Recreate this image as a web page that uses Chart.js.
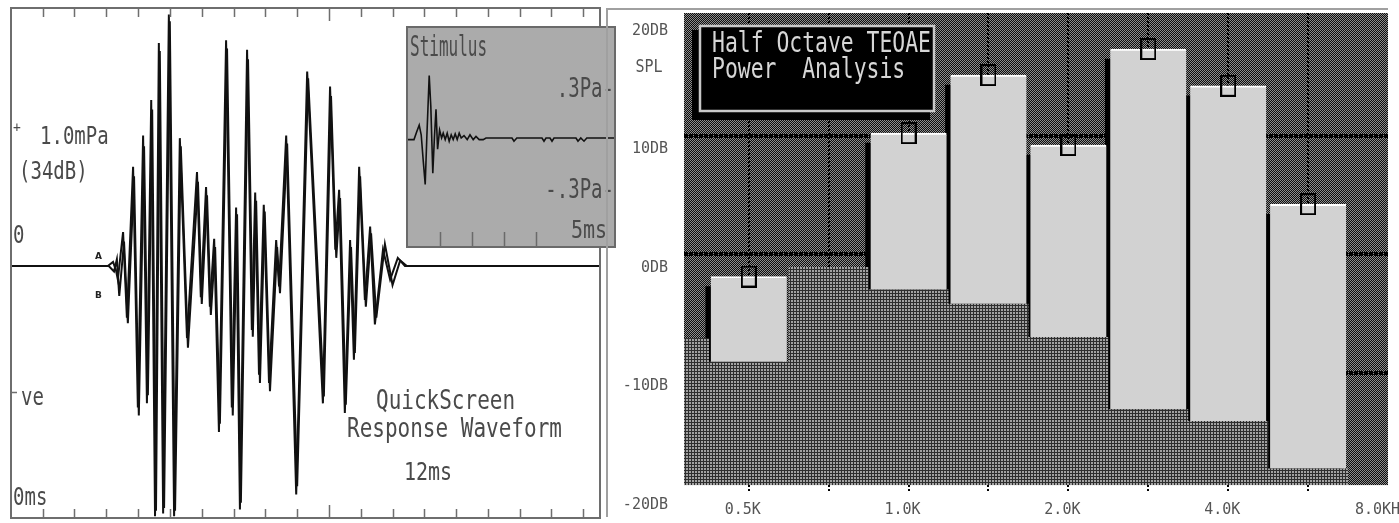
<!DOCTYPE html>
<html>
<head>
<meta charset="utf-8">
<script src="https://cdn.jsdelivr.net/npm/chart.js@4.4.1/dist/chart.umd.min.js"></script>
<style>
  html, body { margin: 0; padding: 0; background: #fff; }
  #wrap { position: relative; width: 1399px; height: 523px; overflow: hidden; }
  canvas { position: absolute; }
  #wave { left: 0; top: 0; }
  #stim { left: 406px; top: 26px; }
  #spec { left: 605px; top: 0; }
</style>
</head>
<body>
<div id="wrap">
  <canvas id="wave" width="605" height="523"></canvas>
  <canvas id="stim" width="210" height="222"></canvas>
  <canvas id="spec" width="794" height="523"></canvas>
</div>
<script>
// ---------- response waveform, two recordings A and B: [ms, mPa] ----------
const responseA = [
  [0, 0], [2.03, 0], [2.14, 0.03], [2.20, -0.03], [2.24, -0.10], [2.35, 0.25], [2.43, -0.38],
  [2.56, 0.73], [2.66, -1.04], [2.77, 0.96], [2.85, -1.01], [2.94, 1.22], [3.02, -1.84],
  [3.10, 1.64], [3.19, -1.82], [3.31, 1.85], [3.42, -1.84], [3.54, 0.94], [3.69, -0.53],
  [3.90, 0.69], [3.98, -0.23], [4.09, 0.58], [4.17, -0.30], [4.26, 0.20], [4.36, -1.22],
  [4.51, 1.66], [4.63, -1.04], [4.72, 0.43], [4.80, -1.79], [4.95, 1.59], [5.05, -0.47],
  [5.12, 0.54], [5.20, -0.80], [5.30, 0.45], [5.41, -0.86], [5.56, 0.19], [5.62, -0.15],
  [5.77, 0.96], [5.98, -1.68], [6.21, 1.43], [6.54, -1.01], [6.69, 1.32], [6.80, 0.12],
  [6.88, 0.56], [7.00, -1.08], [7.11, 0.19], [7.19, -0.69], [7.30, 0.73], [7.42, -0.25],
  [7.53, 0.29], [7.63, -0.43], [7.80, 0.12], [7.95, -0.10], [8.11, 0.06], [8.26, 0], [12.35, 0]
];
const responseB = [
  [0, 0], [2.05, 0], [2.16, -0.04], [2.22, 0.05], [2.27, -0.22], [2.37, 0.18], [2.45, -0.42],
  [2.58, 0.66], [2.68, -1.10], [2.79, 0.88], [2.87, -0.95], [2.96, 1.15], [3.04, -1.80],
  [3.12, 1.58], [3.21, -1.78], [3.33, 1.80], [3.44, -1.80], [3.56, 0.88], [3.71, -0.60],
  [3.92, 0.62], [4.00, -0.28], [4.11, 0.52], [4.19, -0.36], [4.28, 0.14], [4.38, -1.16],
  [4.53, 1.60], [4.65, -1.10], [4.74, 0.38], [4.82, -1.74], [4.97, 1.52], [5.07, -0.52],
  [5.14, 0.48], [5.22, -0.86], [5.32, 0.40], [5.43, -0.92], [5.58, 0.14], [5.64, -0.20],
  [5.79, 0.90], [6.00, -1.62], [6.23, 1.38], [6.56, -0.96], [6.71, 1.25], [6.82, 0.06],
  [6.90, 0.50], [7.02, -1.02], [7.13, 0.14], [7.21, -0.64], [7.32, 0.66], [7.44, -0.30],
  [7.55, 0.24], [7.66, -0.38], [7.84, 0.16], [8.00, -0.14], [8.16, 0.04], [8.30, 0], [12.35, 0]
];
// time ticks along the response frame (ms)
const waveTicks = [0.67, 1.33, 2.0, 2.67, 3.33, 4.0, 4.67, 5.33, 6.0, 6.67, 7.33, 8.0, 8.67, 9.33, 10.0, 10.67, 11.33, 12.0];
const waveLongTick = 6.67;

// ---------- stimulus click: [ms, Pa] ----------
const stimulus = [
  [0, -0.01], [0.15, -0.01], [0.22, 0.04], [0.28, 0.08], [0.33, 0.02], [0.38, -0.14], [0.43, -0.29],
  [0.47, 0.0], [0.53, 0.39], [0.57, 0.20], [0.62, -0.22], [0.66, 0.0], [0.70, 0.18], [0.74, -0.07],
  [0.79, 0.05], [0.84, 0.0], [0.88, 0.03], [0.93, -0.01], [0.98, 0.03], [1.03, -0.02], [1.08, 0.02],
  [1.13, -0.01], [1.18, 0.025], [1.23, -0.01], [1.28, 0.03], [1.33, 0.0], [1.40, 0.015], [1.48, -0.01],
  [1.55, 0.02], [1.63, -0.01], [1.70, 0.01], [1.78, -0.01], [1.88, -0.01], [1.95, 0.0], [2.60, 0.0],
  [2.65, -0.02], [2.72, 0.0], [3.35, 0.0], [3.40, -0.02], [3.45, 0.0], [3.55, 0.0], [3.60, -0.02],
  [3.65, 0.0], [4.20, 0.0], [4.25, -0.02], [4.32, 0.0], [4.40, -0.02], [4.47, 0.0], [5.15, 0.0]
];
const stimTicks = [0.8, 1.6, 2.4, 3.2];

// ---------- half-octave TEOAE power analysis ----------
const bandFreqs = [0.354, 0.5, 0.707, 1.0, 1.414, 2.0, 2.828, 4.0, 5.657, 8.0];   // kHz
const noiseDb   = [-7.1, -9.1, -1.1, -3.0, -4.2, -7.0, -13.1, -14.1, -18.1, -19.5];
const signalDb  = [null, -1.9, null, 10.2, 15.1, 9.2, 17.3, 14.2, 4.2, null];
const gridFreqs = [0.5, 0.707, 1.0, 1.414, 2.0, 2.828, 4.0, 5.657, 8.0];
const freqTickValues = [0.5, 1, 2, 4, 8];
const freqTickLabels = ['0.5K', '1.0K', '2.0K', '4.0K', '8.0KHz'];
const dbTicks = [-20, -10, 0, 10, 20];
const dbGrid = [10, 0, -10];
const dbFloor = -19.5;
const freqTop = 8.0;

const MONO = '"DejaVu Sans Mono", "Liberation Mono", monospace';

function stretchText(ctx, t) {
  ctx.save();
  ctx.font = (t.weight || '') + ' ' + t.size + 'px ' + (t.family || MONO);
  ctx.fillStyle = t.color || '#4a4a4a';
  ctx.textAlign = t.align || 'left';
  ctx.textBaseline = 'middle';
  ctx.translate(t.x, t.y);
  ctx.scale(1, t.sy || 1);
  ctx.fillText(t.text, 0, 0);
  ctx.restore();
}

// ===================== response waveform panel =====================
const waveTexts = [
  { text: '+', x: 13, y: 128, size: 13, sy: 1.1 },
  { text: '1.0mPa', x: 40, y: 137, size: 19, sy: 1.35 },
  { text: '(34dB)', x: 19, y: 172, size: 19, sy: 1.35 },
  { text: '0', x: 13, y: 236, size: 19, sy: 1.35 },
  { text: 've', x: 21, y: 398, size: 19, sy: 1.35 },
  { text: '0ms', x: 13, y: 498, size: 19, sy: 1.35 },
  { text: 'QuickScreen', x: 376, y: 402, size: 21, sy: 1.25 },
  { text: 'Response Waveform', x: 347, y: 430, size: 21, sy: 1.25 },
  { text: '12ms', x: 404, y: 473, size: 20, sy: 1.25 },
  { text: 'A', x: 95, y: 257, size: 9, weight: 'bold', family: '"DejaVu Sans", sans-serif', color: '#222' },
  { text: 'B', x: 95, y: 296, size: 9, weight: 'bold', family: '"DejaVu Sans", sans-serif', color: '#222' }
];

const waveFrame = {
  id: 'waveFrame',
  afterDraw(chart) {
    const { ctx, chartArea: a, scales } = chart;
    ctx.save();
    ctx.strokeStyle = '#6e6e6e';
    ctx.lineWidth = 2;
    ctx.strokeRect(a.left, a.top, a.right - a.left, a.bottom - a.top);
    ctx.lineWidth = 1.5;
    ctx.beginPath();
    waveTicks.forEach(v => {
      const x = Math.round(scales.x.getPixelForValue(v)) + 0.5;
      const len = v === waveLongTick ? 13 : 9;
      ctx.moveTo(x, a.top); ctx.lineTo(x, a.top + len);
      ctx.moveTo(x, a.bottom); ctx.lineTo(x, a.bottom - len);
    });
    // amplitude mark on the left edge
    const yNeg = scales.y.getPixelForValue(-0.93);
    ctx.moveTo(a.left, yNeg); ctx.lineTo(a.left + 6, yNeg);
    ctx.stroke();
    ctx.restore();
    waveTexts.forEach(t => stretchText(ctx, t));
  }
};

new Chart(document.getElementById('wave'), {
  type: 'line',
  data: {
    datasets: [
      { label: 'A', data: responseA.map(p => ({ x: p[0], y: p[1] })), borderColor: '#111', borderWidth: 2, pointRadius: 0, tension: 0 },
      { label: 'B', data: responseB.map(p => ({ x: p[0], y: p[1] })), borderColor: '#111', borderWidth: 2, pointRadius: 0, tension: 0 }
    ]
  },
  options: {
    responsive: false,
    animation: false,
    layout: { padding: { left: 11, right: 5, top: 8, bottom: 5 } },
    plugins: { legend: { display: false }, tooltip: { enabled: false } },
    scales: {
      x: { type: 'linear', min: 0, max: 12.35, display: false },
      y: { type: 'linear', min: -1.853, max: 1.897, display: false }
    }
  },
  plugins: [waveFrame]
});

// ===================== stimulus inset =====================
const stimTexts = [
  { text: 'Stimulus', x: 4, y: 23, size: 16, sy: 1.75 },
  { text: '.3Pa-', x: 208, y: 64, size: 19, sy: 1.4, align: 'right' },
  { text: '-.3Pa-', x: 208, y: 165, size: 19, sy: 1.4, align: 'right' },
  { text: '5ms', x: 201, y: 205, size: 20, sy: 1.25, align: 'right' }
];

const stimFrame = {
  id: 'stimFrame',
  beforeDraw(chart) {
    const { ctx, width, height } = chart;
    ctx.save();
    ctx.fillStyle = '#ababab';
    ctx.fillRect(0, 0, width, height);
    ctx.restore();
  },
  afterDraw(chart) {
    const { ctx, width, height, chartArea: a, scales } = chart;
    ctx.save();
    ctx.strokeStyle = '#6a6a6a';
    ctx.lineWidth = 2;
    ctx.strokeRect(1, 1, width - 2, height - 2);
    ctx.lineWidth = 1.5;
    ctx.beginPath();
    stimTicks.forEach(v => {
      const x = Math.round(scales.x.getPixelForValue(v)) + 0.5;
      ctx.moveTo(x, a.bottom); ctx.lineTo(x, a.bottom - 14);
    });
    ctx.stroke();
    ctx.restore();
    stimTexts.forEach(t => stretchText(ctx, t));
  }
};

new Chart(document.getElementById('stim'), {
  type: 'line',
  data: {
    datasets: [
      { label: 'Stimulus', data: stimulus.map(p => ({ x: p[0], y: p[1] })), borderColor: '#111', borderWidth: 1.6, pointRadius: 0, tension: 0 }
    ]
  },
  options: {
    responsive: false,
    animation: false,
    layout: { padding: { left: 2, right: 2, top: 2, bottom: 2 } },
    plugins: { legend: { display: false }, tooltip: { enabled: false } },
    scales: {
      x: { type: 'linear', min: 0, max: 5.15, display: false },
      y: { type: 'linear', min: -0.675, max: 0.6875, display: false }
    }
  },
  plugins: [stimFrame]
});

// ===================== half-octave power analysis =====================
function makePattern(size, painter) {
  const c = document.createElement('canvas');
  c.width = size; c.height = size;
  painter(c.getContext('2d'));
  return document.getElementById('spec').getContext('2d').createPattern(c, 'repeat');
}
// dark checker behind the bands
const upperPattern = makePattern(2, g => {
  g.fillStyle = '#8e8e8e'; g.fillRect(0, 0, 2, 2);
  g.fillStyle = '#0e0e0e'; g.fillRect(0, 0, 1, 1); g.fillRect(1, 1, 1, 1);
});
// dotted texture for the noise floor
const noisePattern = makePattern(3, g => {
  g.fillStyle = '#2e2e2e'; g.fillRect(0, 0, 3, 3);
  g.fillStyle = '#a2a2a2'; g.fillRect(0, 0, 2, 2);
});

// level marker drawn at each band's response
const marker = document.createElement('canvas');
marker.width = 16; marker.height = 22;
(g => { g.strokeStyle = '#000'; g.lineWidth = 2; g.strokeRect(1, 1, 14, 20); })(marker.getContext('2d'));

const bandBars = bandFreqs
  .map((f, i) => signalDb[i] == null ? null : { x: f, y: [noiseDb[i], signalDb[i]] })
  .filter(Boolean);
const bandMarks = bandFreqs
  .map((f, i) => signalDb[i] == null ? null : { x: f, y: signalDb[i] })
  .filter(Boolean);

const specDecor = {
  id: 'specDecor',
  beforeDraw(chart) {
    const { ctx, chartArea: a, scales } = chart;
    ctx.save();
    ctx.fillStyle = upperPattern;
    const yb = scales.y.getPixelForValue(dbFloor);
    const xr = scales.x.getPixelForValue(freqTop);
    ctx.fillRect(a.left, a.top, xr - a.left, yb - a.top);
    ctx.restore();
  },
  beforeDatasetsDraw(chart) {
    // level grid lines across the band area
    const { ctx, chartArea: a, scales } = chart;
    const xr = scales.x.getPixelForValue(freqTop);
    ctx.save();
    ctx.strokeStyle = '#000';
    ctx.lineWidth = 4;
    ctx.setLineDash([4, 1]);
    ctx.beginPath();
    dbGrid.forEach(v => {
      const y = Math.round(scales.y.getPixelForValue(v));
      ctx.moveTo(a.left, y); ctx.lineTo(xr, y);
    });
    ctx.stroke();
    ctx.restore();
  },
  beforeDatasetDraw(chart, args) {
    if (chart.data.datasets[args.index].label === 'shadow') {
      chart.ctx.save();
      chart.ctx.translate(-5, 10);
    }
  },
  afterDatasetDraw(chart, args) {
    if (chart.data.datasets[args.index].label === 'shadow') chart.ctx.restore();
  },
  afterDraw(chart) {
    const { ctx, scales } = chart;
    const xr = scales.x.getPixelForValue(freqTop);
    ctx.save();
    // panel frame
    ctx.strokeStyle = '#a0a0a0';
    ctx.lineWidth = 2;
    ctx.beginPath();
    ctx.moveTo(1, 9); ctx.lineTo(xr, 9);
    ctx.moveTo(2, 9); ctx.lineTo(2, 517);
    ctx.stroke();
    // title box with its drop shadow
    ctx.fillStyle = '#000';
    ctx.fillRect(87, 30, 238, 90);
    ctx.fillRect(94, 25, 236, 87);
    ctx.strokeStyle = '#c8c8c8';
    ctx.lineWidth = 2.5;
    ctx.strokeRect(95, 26, 234, 85);
    ctx.restore();
    stretchText(ctx, { text: 'Half Octave TEOAE', x: 107, y: 44, size: 21.4, sy: 1.35, color: '#d6d6d6' });
    stretchText(ctx, { text: 'Power  Analysis', x: 107, y: 70, size: 21.4, sy: 1.35, color: '#d6d6d6' });
    stretchText(ctx, { text: 'SPL', x: 44, y: 67, size: 15, sy: 1.2, color: '#555', align: 'center' });
  }
};

new Chart(document.getElementById('spec'), {
  data: {
    datasets: [
      {
        type: 'bar', label: 'shadow', data: bandBars, backgroundColor: '#000',
        barThickness: 76, grouped: false, borderWidth: 0, order: 4
      },
      {
        type: 'line', label: 'Noise', data: bandFreqs.map((f, i) => ({ x: f, y: noiseDb[i] })),
        stepped: 'middle', borderColor: 'transparent', borderWidth: 0, pointRadius: 0,
        backgroundColor: noisePattern, fill: { value: dbFloor }, order: 3
      },
      {
        type: 'bar', label: 'Signal', data: bandBars, backgroundColor: '#d2d2d2',
        borderColor: '#ffffff', borderWidth: { top: 2, left: 0, right: 0, bottom: 0 },
        borderSkipped: false, barThickness: 76, grouped: false, order: 2
      },
      {
        type: 'line', label: 'Level', data: bandMarks, showLine: false,
        pointStyle: marker, pointRadius: 10, order: 1
      }
    ]
  },
  options: {
    responsive: false,
    animation: false,
    layout: { padding: { left: 0, right: 9, top: 13, bottom: 0 } },
    plugins: { legend: { display: false }, tooltip: { enabled: false } },
    scales: {
      x: {
        type: 'logarithmic', min: 0.3775, max: freqTop, offset: false,
        afterBuildTicks: s => { s.ticks = gridFreqs.map(v => ({ value: v })); },
        afterFit: s => { s.height = 32; s.paddingLeft = 0; s.paddingRight = 0; },
        ticks: {
          autoSkip: false, maxRotation: 0, minRotation: 0, padding: 10, labelOffset: -6,
          color: '#555', font: { family: MONO, size: 15 },
          callback: v => {
            const k = freqTickValues.indexOf(v);
            return k < 0 ? '' : freqTickLabels[k];
          }
        },
        grid: {
          offset: false, drawTicks: false, lineWidth: 2,
          color: c => (c.tick && c.tick.value === freqTop) ? 'transparent' : '#000'
        },
        border: { display: false, dash: [2, 2] }
      },
      y: {
        type: 'linear', min: -20, max: 20.34,
        afterBuildTicks: s => { s.ticks = dbTicks.map(v => ({ value: v })); },
        afterFit: s => { s.width = 79; s.paddingTop = 0; s.paddingBottom = 0; },
        ticks: {
          padding: 16, labelOffset: 14, color: '#555', font: { family: MONO, size: 15 },
          callback: v => v + 'DB'
        },
        grid: { drawTicks: false, color: 'transparent' },
        border: { display: false }
      }
    }
  },
  plugins: [specDecor]
});
</script>
</body>
</html>
